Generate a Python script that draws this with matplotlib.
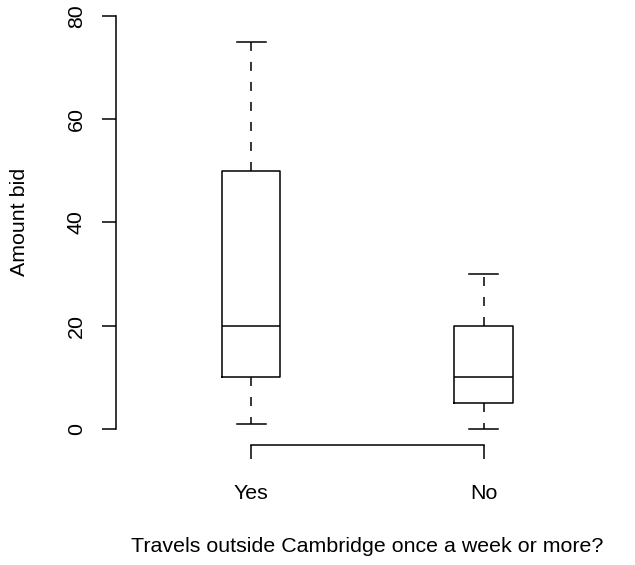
import matplotlib
matplotlib.use('Agg')
import matplotlib.pyplot as plt

plt.rcParams['font.family'] = ['Liberation Sans', 'DejaVu Sans']

# box summary per group
groups = ['Yes', 'No']
whislo = [1, 0]
q1 = [10, 5]
med = [20, 10]
q3 = [50, 20]
whishi = [75, 30]
yticks = [0, 20, 40, 60, 80]

stats = []
for i, g in enumerate(groups):
    stats.append(dict(label=g, whislo=whislo[i], q1=q1[i], med=med[i],
                      q3=q3[i], whishi=whishi[i], fliers=[]))

W, H = 635, 565
fig = plt.figure(figsize=(W / 100, H / 100), dpi=100)
ax = fig.add_axes([116.2 / W, (H - 445.3) / H, (618.4 - 116.2) / W, 446.1 / H])

lw = 1.1
fs = 15.4
ax.bxp(stats, positions=[1, 2], widths=0.25, capwidths=0.125,
       showfliers=False,
       boxprops=dict(color='black', linewidth=lw),
       medianprops=dict(color='black', linewidth=lw),
       whiskerprops=dict(color='black', linewidth=lw, linestyle=(0, (5.9, 7.2))),
       capprops=dict(color='black', linewidth=lw))

ax.set_xlim(0.42, 2.58)
ax.set_ylim(-3.2, 83.2)

ax.set_yticks(yticks)
ax.set_yticklabels([str(v) for v in yticks], rotation=90, va='center')
ax.set_xticks([1, 2])
ax.set_xticklabels(groups)

for s in ['top', 'right']:
    ax.spines[s].set_visible(False)
ax.spines['left'].set_bounds(0, 80)
ax.spines['bottom'].set_bounds(1, 2)
ax.spines['left'].set_linewidth(lw)
ax.spines['bottom'].set_linewidth(lw)
ax.tick_params(length=10, width=lw, labelsize=fs)
ax.tick_params(axis='y', pad=12)
ax.tick_params(axis='x', pad=18)

ax.set_ylabel('Amount bid', fontsize=fs, labelpad=27)
ax.set_xlabel('Travels outside Cambridge once a week or more?', fontsize=fs, labelpad=24)

fig.savefig('out.png', dpi=100)
